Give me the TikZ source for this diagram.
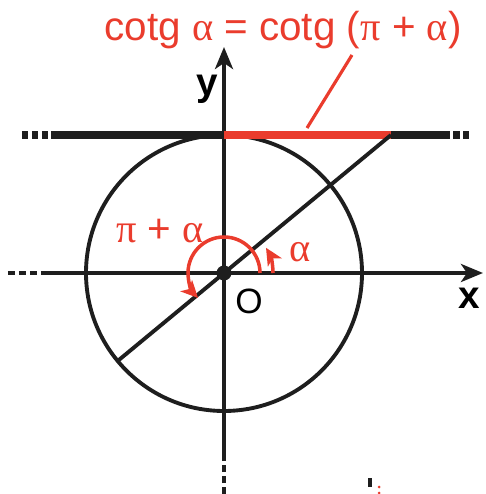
\documentclass[tikz,border=0pt]{standalone}
\usepackage{fontspec}
\setmainfont{Liberation Sans}
\newfontfamily\grk{Liberation Serif}
\definecolor{ink}{RGB}{30,30,30}
\definecolor{accent}{RGB}{234,60,45}
\usetikzlibrary{arrows.meta,positioning}
\tikzset{
  axis/.style={ink, line width=2.3pt, -{Stealth[length=4.4mm,width=3.6mm,inset=1.2mm]}},
  axisdash/.style={ink, line width=2.3pt, dash pattern=on 1.5mm off 0.7mm},
  tangent/.style={ink, line width=4.6pt},
  tandash/.style={ink, line width=4.6pt, dash pattern=on 1.3mm off 0.7mm},
  angarc/.style={accent, line width=2pt, -{Stealth[length=3.4mm,width=3.2mm,inset=0.9mm]}},
  lbl/.style={font=\fontsize{20}{24}\selectfont, inner sep=0pt},
  axlbl/.style={font=\fontsize{22}{24}\selectfont\bfseries, inner sep=0pt},
  redlbl/.style={font=\fontsize{23}{26}\selectfont, text=accent, inner sep=0pt},
}
\begin{document}
\begin{tikzpicture}
  \useasboundingbox (-4.48,-4.42) rectangle (5.22,5.46);
  \coordinate (O) at (0,0);
  \coordinate (T) at (0,2.76);
  \coordinate (P) at (3.34,2.76);
  \coordinate (Q) at (219.6:2.76);
  \coordinate (xs) at (-3.62,0);
  \coordinate (xe) at (5.18,0);
  \coordinate (ys) at (0,-3.68);
  \coordinate (ye) at (0,4.52);
  \coordinate (tl) at (-3.46,2.76);
  \coordinate (tr) at (4.38,2.76);
  \draw[ink, line width=2.2pt] (O) circle[radius=2.76];
  \draw[axisdash] (-4.32,0) -- (xs);
  \draw[axis] (xs) -- (xe);
  \draw[axisdash] (0,-4.42) -- (ys);
  \draw[axis] (ys) -- (ye);
  \draw[tandash] (-4.04,2.76) -- (tl);
  \draw[tangent] (tl) -- (tr);
  \draw[tandash] (tr) -- (4.9,2.76);
  \draw[accent, line width=4.6pt] (T) -- (P);
  \draw[ink, line width=2.2pt] (Q) -- (P);
  \fill[ink] (O) circle[radius=0.15];
  \draw[angarc] (0.98,0) arc[start angle=0, end angle=31, radius=0.98];
  \draw[angarc] (0.72,0) arc[start angle=0, end angle=224, radius=0.72];
  \node[axlbl] (ylab) at (-0.34,3.68) {y};
  \node[axlbl] (xlab) at (4.9,-0.5) {x};
  \node[lbl] (olab) at (0.5,-0.56) {O};
  \node[redlbl] (alab) at (1.52,0.42) {\grk α};
  \node[redlbl] (pilab) at (-1.28,0.84) {{\grk π} + {\grk α}};
  \node[redlbl] (title) at (1.18,4.86) {cotg {\grk α} = cotg ({\grk π} + {\grk α})};
  \coordinate (lead) at (1.66,2.9);
  \draw[accent, line width=1.8pt] (2.56,4.36) -- (lead);
  \fill[ink] (2.88,-4.1) rectangle (2.96,-4.28);
  \fill[accent] (3.1,-4.28) circle[radius=0.03];
  \fill[accent] (3.1,-4.4) circle[radius=0.03];
\end{tikzpicture}
\end{document}
